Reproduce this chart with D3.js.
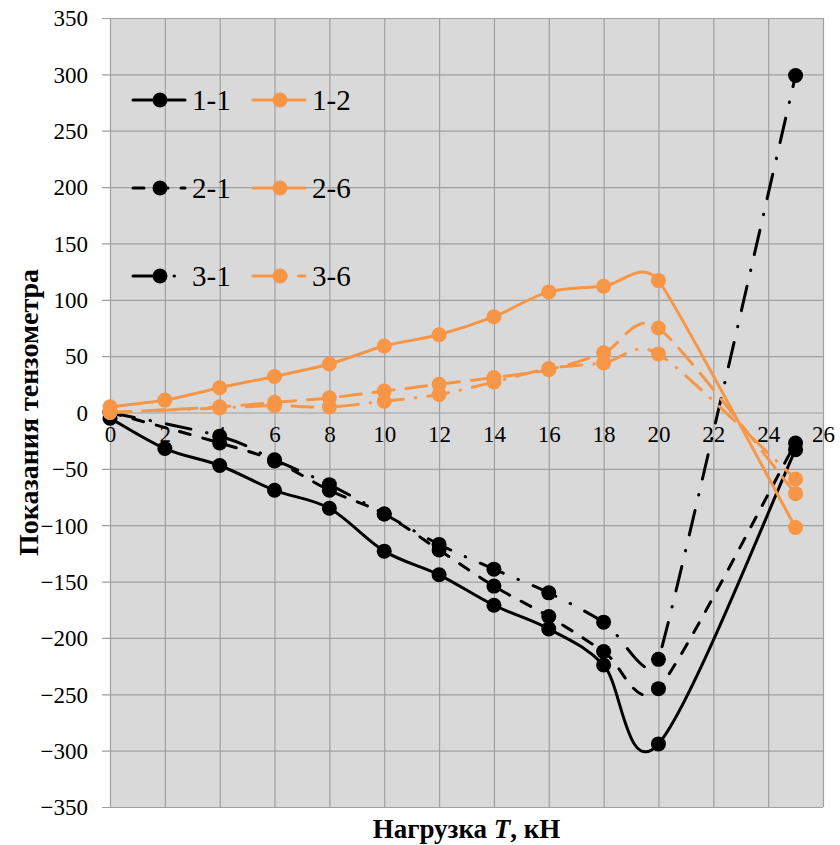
<!DOCTYPE html>
<html lang="ru">
<head>
  <meta charset="UTF-8">
  <title>Показания тензометра</title>
  <script src="https://cdn.jsdelivr.net/npm/d3@7"></script>
  <style>
    body { margin: 0; background: #fff; }
    text { font-family: "Liberation Serif", "Times New Roman", serif; fill: #000; }
    .grid line { stroke: #a0a0a0; stroke-width: 1.2px; }
    .grid path { display: none; }
    .ticklab text { font-size: 23px; }
    .ticklab path, .ticklab line { display: none; }
  </style>
</head>
<body>
<svg width="840" height="845"></svg>
<script>
// loads in kN
var xFull = [0, 2, 4, 6, 8, 10, 12, 14, 16, 18, 20, 25];
var xSkip = [0, 4, 6, 8, 10, 12, 14, 16, 18, 20, 25];

// gauge readings
var s11 = [-5, -32, -47, -69, -85, -123, -144, -171, -192, -224, -294, -33];
var s12 = [5, 11, 22, 32, 43, 59, 69, 85, 107, 112, 117, -102];
var s21 = [0, -27, -43, -69, -90, -122, -154, -181, -212, -245, -27];
var s26 = [0, 5, 9, 13, 19, 25, 31, 38, 53, 75, -72];
var s31 = [0, -21, -42, -64, -90, -117, -139, -160, -186, -219, 299];
var s36 = [0, 4, 6, 5, 10, 16, 27, 39, 44, 52, -59];

var xTicks = d3.range(0, 27, 2);
var yTicks = d3.range(-350, 351, 50);

var black = "#000000", orange = "#f79646";

var series = [
  {name: "1-1", xs: xFull, ys: s11, color: black, dash: null},
  {name: "2-1", xs: xSkip, ys: s21, color: black, dash: "11,13"},
  {name: "3-1", xs: xSkip, ys: s31, color: black, dash: "25,16,0.5,16"},
  {name: "1-2", xs: xFull, ys: s12, color: orange, dash: null},
  {name: "2-6", xs: xSkip, ys: s26, color: orange, dash: "21,12"},
  {name: "3-6", xs: xSkip, ys: s36, color: orange, dash: "21,12,0.5,12"}
];

var svg = d3.select("svg");
var pL = 110, pR = 823, pT = 18, pB = 807;

var x = d3.scaleLinear().domain([0, 26]).range([pL, pR]);
var y = d3.scaleLinear().domain([-350, 350]).range([pB, pT]);

svg.append("rect")
    .attr("x", pL).attr("y", pT)
    .attr("width", pR - pL).attr("height", pB - pT)
    .attr("fill", "#d9d9d9");

// vertical grid
svg.append("g")
    .attr("class", "grid")
    .attr("transform", "translate(0," + pB + ")")
    .call(d3.axisBottom(x).tickValues(xTicks).tickSize(-(pB - pT)).tickFormat(""));

// horizontal grid, sticking out left as tick marks
svg.append("g")
    .attr("class", "grid")
    .attr("transform", "translate(" + pR + ",0)")
    .call(d3.axisLeft(y).tickValues(yTicks).tickSize(pR - pL + 8).tickFormat(""));

// y labels
svg.append("g")
    .attr("class", "ticklab")
    .attr("transform", "translate(" + (pL - 14) + ",0)")
    .call(d3.axisLeft(y).tickValues(yTicks).tickSize(0).tickPadding(8))
    .selectAll("text").attr("dy", "0.34em");

// x labels along the zero line
svg.append("g")
    .attr("class", "ticklab")
    .attr("transform", "translate(0," + (y(0) + 5) + ")")
    .call(d3.axisBottom(x).tickValues(xTicks).tickSize(0).tickPadding(8));

// excel-like smoothing: tangent (P[i+1]-P[i-1])/6, capped at half the shorter neighbouring segment
function smoothPath(pts) {
  var p = pts.map(function(d) { return [x(d[0]), y(d[1])]; });
  var n = p.length, tan = [];
  for (var i = 0; i < n; i++) {
    var a = p[Math.max(i - 1, 0)], b = p[i], c = p[Math.min(i + 1, n - 1)];
    var tx = c[0] - a[0], ty = c[1] - a[1];
    var d02 = Math.hypot(tx, ty) || 1;
    var f = 1 / 6;
    if (i > 0 && i < n - 1) {
      var d01 = Math.hypot(b[0] - a[0], b[1] - a[1]);
      var d12 = Math.hypot(c[0] - b[0], c[1] - b[1]);
      var lim = Math.min(d01, d12) / 2;
      if (d02 * f > lim) f = lim / d02;
    }
    tan[i] = [tx * f, ty * f];
  }
  var path = d3.path();
  path.moveTo(p[0][0], p[0][1]);
  for (var j = 1; j < n; j++) {
    path.bezierCurveTo(p[j - 1][0] + tan[j - 1][0], p[j - 1][1] + tan[j - 1][1],
                       p[j][0] - tan[j][0], p[j][1] - tan[j][1], p[j][0], p[j][1]);
  }
  return path.toString();
}

var plot = svg.append("g");

series.forEach(function(s) {
  var pts = s.xs.map(function(v, i) { return [v, s.ys[i]]; });
  var g = plot.append("g");
  g.append("path")
      .attr("d", smoothPath(pts))
      .attr("fill", "none")
      .attr("stroke", s.color)
      .attr("stroke-width", 3)
      .attr("stroke-linecap", "round")
      .attr("stroke-dasharray", s.dash);
  g.selectAll("circle")
      .data(pts)
      .enter().append("circle")
      .attr("cx", function(d) { return x(d[0]); })
      .attr("cy", function(d) { return y(d[1]); })
      .attr("r", 7.5)
      .attr("fill", s.color);
});

// legend: two columns, three rows
var legend = svg.append("g");
var legendOrder = [["1-1", "1-2"], ["2-1", "2-6"], ["3-1", "3-6"]];
var rowY = [100, 188, 276];
var colX = [133, 253];
legendOrder.forEach(function(row, r) {
  row.forEach(function(name, c) {
    var s = series.filter(function(d) { return d.name === name; })[0];
    var g = legend.append("g").attr("transform", "translate(" + colX[c] + "," + rowY[r] + ")");
    g.append("line")
        .attr("x1", 0).attr("x2", 52)
        .attr("stroke", s.color)
        .attr("stroke-width", 3)
        .attr("stroke-linecap", "round")
        .attr("stroke-dasharray", s.dash);
    g.append("circle").attr("cx", 27).attr("r", 7.5).attr("fill", s.color);
    g.append("text")
        .attr("x", 59).attr("dy", "0.34em")
        .style("font-size", "29px")
        .text(name);
  });
});

// axis titles
svg.append("text")
    .attr("transform", "translate(38," + ((pT + pB) / 2) + ") rotate(-90)")
    .attr("text-anchor", "middle")
    .style("font-size", "28px")
    .style("font-weight", "bold")
    .text("Показания тензометра");

var xt = svg.append("text")
    .attr("x", (pL + pR) / 2)
    .attr("y", 838)
    .attr("text-anchor", "middle")
    .style("font-size", "27px")
    .style("font-weight", "bold");
xt.append("tspan").text("Нагрузка ");
xt.append("tspan").style("font-style", "italic").text("T");
xt.append("tspan").text(", кН");
</script>
</body>
</html>
